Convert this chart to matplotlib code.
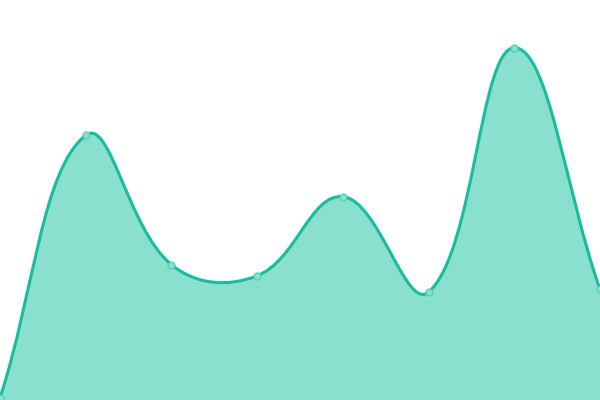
import numpy as np
import matplotlib
matplotlib.use("Agg")
import matplotlib.pyplot as plt
from matplotlib.path import Path
from matplotlib.patches import PathPatch

# data
labels = ["A", "B", "C", "D", "E", "F", "G", "H"]
values = [0, 66, 33.5, 30.7, 50.6, 26.6, 88, 27.3]

line_color = "#1abc9c"
fill_color = "#8ae0cf"
tension = 0.4


def spline_controls(pts, t):
    # Chart.js style bezier control points (in pixel space)
    n = len(pts)
    cps = []
    for i in range(n):
        prev = pts[i - 1] if i > 0 else pts[i]
        cur = pts[i]
        nxt = pts[i + 1] if i < n - 1 else pts[i]
        d01 = np.hypot(*(cur - prev))
        d12 = np.hypot(*(nxt - cur))
        tot = d01 + d12
        s01 = d01 / tot if tot else 0
        s12 = d12 / tot if tot else 0
        fa = t * s01
        fb = t * s12
        cps.append((cur - fa * (nxt - prev), cur + fb * (nxt - prev)))
    return cps


fig = plt.figure(figsize=(6, 4), dpi=100)
ax = fig.add_axes([0, 0, 1, 1])
ax.set_xlim(0, len(values) - 1)
ax.set_ylim(-0.5, 100)
ax.axis("off")

x = np.arange(len(values))
data_pts = np.column_stack([x, values]).astype(float)
pix = ax.transData.transform(data_pts)
cps = spline_controls(pix, tension)

# clamp control points into the plotting area
bbox = ax.bbox
verts = [pix[0]]
codes = [Path.MOVETO]
for i in range(len(pix) - 1):
    c1 = cps[i][1].copy()
    c2 = cps[i + 1][0].copy()
    for c in (c1, c2):
        c[0] = min(max(c[0], bbox.x0), bbox.x1)
        c[1] = min(max(c[1], bbox.y0), bbox.y1)
    verts += [c1, c2, pix[i + 1]]
    codes += [Path.CURVE4] * 3

inv = ax.transData.inverted()
curve = inv.transform(np.array(verts))

fill_verts = list(curve) + [(x[-1], -0.5), (x[0], -0.5), tuple(curve[0])]
fill_codes = codes + [Path.LINETO, Path.LINETO, Path.CLOSEPOLY]
ax.add_patch(PathPatch(Path(fill_verts, fill_codes), facecolor=fill_color,
                       edgecolor="none", zorder=1))
ax.add_patch(PathPatch(Path(curve, codes), facecolor="none",
                       edgecolor=line_color, linewidth=2.2, zorder=2))

ax.plot(x, values, linestyle="none", marker="o", markersize=5,
        markerfacecolor=fill_color, markeredgecolor="#4fcfb4",
        markeredgewidth=0.9, zorder=3, clip_on=False)

fig.savefig("out.png", dpi=100)
